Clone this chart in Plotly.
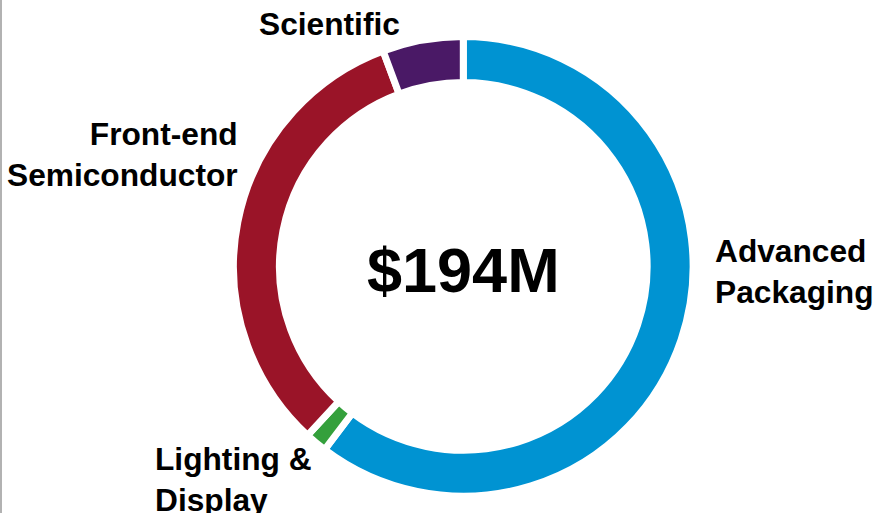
import plotly.graph_objects as go

categories = ["Advanced Packaging", "Lighting & Display", "Front-end Semiconductor", "Scientific"]
values = [117, 3, 63, 11]
colors = ["#0093D2", "#34A03C", "#9A1428", "#4A1966"]
center_label = "$194M"

W, H = 874, 513
cx, cy, R = 463.3, 266.4, 229.8


def px(x):
    return x / W


def py(y):
    return 1 - y / H


fig = go.Figure(go.Pie(
    labels=categories,
    values=values,
    marker=dict(colors=colors, line=dict(color="white", width=7)),
    hole=0.80,
    sort=False,
    direction="clockwise",
    rotation=0,
    textinfo="none",
    hoverinfo="label+value",
    showlegend=False,
    domain=dict(x=[px(cx - 300), px(cx + 300)], y=[py(cy + R), py(cy - R)]),
))

FS = 31.7
font = dict(family="Liberation Sans, Arial, sans-serif", size=FS, color="black")
bfont = dict(family="Liberation Sans, Arial, sans-serif", size=63, color="black")

ann = [
    dict(text="<b>Advanced<br>Packaging</b>", x=px(712.7), y=py(271.5), xanchor="left", yanchor="middle", align="left", font=font),
    dict(text="<b>Front-end<br>Semiconductor</b>", x=px(240), y=py(154.5), xanchor="right", yanchor="middle", align="right", font=font),
    dict(text="<b>Scientific</b>", x=px(329.3), y=py(24.3), xanchor="center", yanchor="middle", align="center", font=font),
    dict(text="<b>Lighting &<br>Display</b>", x=px(153.3), y=py(479), xanchor="left", yanchor="middle", align="left", font=font),
    dict(text="<b>" + center_label + "</b>", x=px(cx), y=py(269.8), xanchor="center", yanchor="middle", align="center", font=bfont),
]
for a in ann:
    a.update(xref="paper", yref="paper", showarrow=False)

fig.update_layout(
    width=W, height=H,
    margin=dict(l=0, r=0, t=0, b=0),
    paper_bgcolor="white", plot_bgcolor="white",
    annotations=ann,
    shapes=[dict(type="line", xref="paper", yref="paper", x0=px(1), x1=px(1), y0=0, y1=1,
                 line=dict(color="#999999", width=1.5))],
)

fig.write_html(
    "out.html",
    config={"displayModeBar": False},
    post_script="document.body.style.margin='0';document.body.style.overflow='hidden';",
)
